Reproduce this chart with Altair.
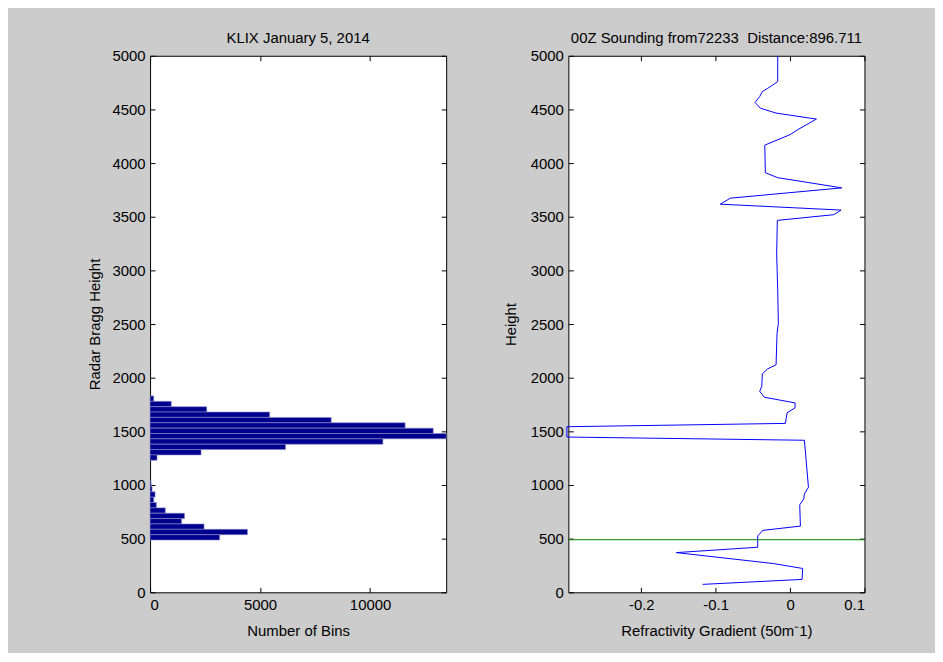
import altair as alt
import pandas as pd

# ---------------- data ----------------
# Left panel: histogram of radar Bragg heights (bin centres, m) and counts
bin_centers = [1805, 1755, 1705, 1655, 1605, 1555, 1505, 1455, 1405, 1355, 1305, 1255,
               1012, 962, 912, 862, 812, 762, 712, 662, 612, 562, 512]
bin_counts = [166, 963, 2575, 5435, 8235, 11593, 12873, 13460, 10584, 6158, 2318, 316,
              45, 90, 226, 166, 286, 693, 1566, 1431, 2454, 4427, 3162]
bin_width = 50

# Right panel: sounding refractivity gradient profile
sound_height = [5000, 4759, 4728, 4697, 4667, 4620, 4565, 4512, 4466, 4410, 4311, 4265,
                4167, 3910, 3864, 3769, 3673, 3617, 3562, 3519, 3466, 3154, 2815, 2506,
                2414, 2120, 2083, 2037, 1920, 1873, 1818, 1765, 1719, 1673, 1574, 1543,
                1447, 1417, 979, 917, 870, 815, 617, 577, 525, 420, 370, 268, 222, 120, 74]
sound_grad = [-0.0166, -0.0166, -0.0233, -0.030, -0.0372, -0.0408, -0.0471, -0.040, -0.0188,
              0.0354, 0.0103, 0.0, -0.034, -0.0332, -0.0166, 0.0696, -0.0803, -0.0938,
              0.0686, 0.0588, -0.0171, -0.018, -0.0166, -0.0157, -0.0175, -0.0188, -0.030,
              -0.0372, -0.038, -0.0408, -0.0345, 0.0067, 0.0067, -0.004, -0.0063, -0.30,
              -0.30, 0.0193, 0.0247, 0.0193, 0.0184, 0.013, 0.0139, -0.0367, -0.0435,
              -0.0435, -0.1529, -0.0224, 0.017, 0.0161, -0.1175]
ref_height = [490]

height_ticks = list(range(0, 5001, 500))
count_ticks = [0, 5000, 10000]
grad_ticks = [-0.2, -0.1, 0, 0.1]

FONT = "Liberation Sans"

bars_df = pd.DataFrame({"center": bin_centers, "count": bin_counts})
bars_df["lo"] = bars_df["center"] - bin_width / 2
bars_df["hi"] = bars_df["center"] + bin_width / 2
bars_df["base"] = 0

line_df = pd.DataFrame({"h": sound_height, "grad": sound_grad})
line_df["idx"] = range(len(line_df))
ref_df = pd.DataFrame({"h": ref_height})


def main_axis(orient, values, title, title_pad):
    return alt.Axis(orient=orient, values=values, title=title, offset=-5, tickSize=5,
                    domain=False, labelPadding=5, titlePadding=title_pad,
                    labelExpr="toString(datum.value)")


def box_axis(orient, values):
    return alt.Axis(orient=orient, values=values, labels=False, title=None, offset=-5,
                    tickSize=5, domain=False)


# ---------------- left panel ----------------
xs_left = alt.Scale(domain=[0, max(bin_counts)], nice=False, zero=True)
ys = alt.Scale(domain=[0, 5000], nice=False)

bars = alt.Chart(bars_df).mark_rect(color="#00008f", stroke="#8c8cc8", strokeWidth=0.6).encode(
    x=alt.X("base:Q", scale=xs_left,
            axis=main_axis("bottom", count_ticks, "Number of Bins", 11)),
    x2="count:Q",
    y=alt.Y("lo:Q", scale=ys,
            axis=main_axis("left", height_ticks, "Radar Bragg Height", 10)),
    y2="hi:Q",
)
bars_box = alt.Chart(bars_df).mark_point(opacity=0).encode(
    x=alt.X("count:Q", scale=xs_left, axis=box_axis("top", count_ticks)),
    y=alt.Y("center:Q", scale=ys, axis=box_axis("right", height_ticks)),
)
left = alt.layer(bars, bars_box).resolve_axis(x="independent", y="independent").properties(
    width=298, height=540,
    title=alt.TitleParams("KLIX January 5, 2014", frame="group", offset=3),
)

# ---------------- right panel ----------------
xs_right = alt.Scale(domain=[-0.298, 0.1], nice=False, zero=False)

line = alt.Chart(line_df).mark_line(color="#0000ff", strokeWidth=1).encode(
    x=alt.X("grad:Q", scale=xs_right,
            axis=main_axis("bottom", grad_ticks, "Refractivity Gradient (50m⁻1)", 11)),
    y=alt.Y("h:Q", scale=ys, axis=main_axis("left", height_ticks, "Height", 12)),
    order="idx:Q",
)
ref_rule = alt.Chart(ref_df).mark_rule(color="#008000", strokeWidth=1).encode(
    y=alt.Y("h:Q", scale=ys, axis=None),
)
line_box = alt.Chart(line_df).mark_point(opacity=0).encode(
    x=alt.X("grad:Q", scale=xs_right, axis=box_axis("top", grad_ticks)),
    y=alt.Y("h:Q", scale=ys, axis=box_axis("right", height_ticks)),
)
right = alt.layer(line, ref_rule, line_box).resolve_axis(x="independent", y="independent").properties(
    width=298, height=540,
    title=alt.TitleParams("00Z Sounding from72233\u00a0\u00a0Distance:896.711", frame="group", offset=3),
)

chart = alt.hconcat(left, right, spacing=53).properties(
    background="#cccccc",
    padding={"left": 79, "top": 20, "right": 70, "bottom": 12},
).configure_view(
    stroke="black", strokeWidth=1, fill="white",
).configure_axis(
    grid=False, labelFont=FONT, titleFont=FONT, labelFontSize=15, titleFontSize=15,
    titleFontWeight="normal", labelColor="black", titleColor="black", tickColor="black",
).configure_title(
    font=FONT, fontSize=15, fontWeight="normal", color="black",
)

chart.save("out.html", embed_options={"renderer": "svg", "actions": False})
